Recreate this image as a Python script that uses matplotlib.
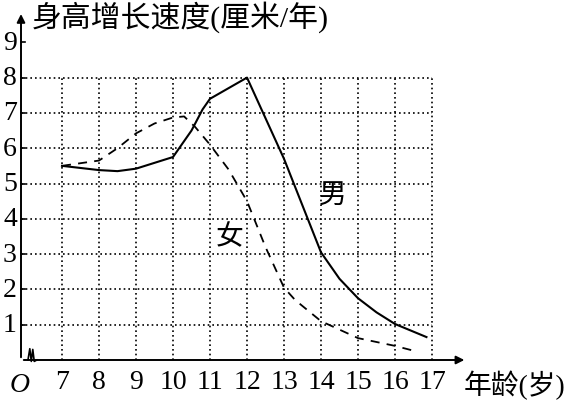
import matplotlib
matplotlib.use("Agg")
import matplotlib.pyplot as plt

plt.rcParams['font.family'] = ['Liberation Serif', 'Noto Sans CJK SC', 'DejaVu Sans']

# values
boy_age = [7, 8, 8.5, 9, 10, 10.5, 10.8, 11, 12, 13, 14, 14.5, 15, 15.5, 16, 16.85]
boy_speed = [5.5, 5.38, 5.35, 5.42, 5.75, 6.5, 7.1, 7.4, 8.0, 5.7, 3.05, 2.3, 1.75, 1.35, 1.02, 0.65]
girl_age = [7, 8, 8.5, 9, 9.5, 10, 10.3, 10.6, 11, 11.5, 12, 12.5, 13, 13.3, 14, 15, 16, 16.55]
girl_speed = [5.5, 5.65, 6.0, 6.42, 6.7, 6.87, 6.9, 6.6, 6.1, 5.4, 4.5, 3.2, 2.05, 1.7, 1.1, 0.62, 0.4, 0.25]
x_ticks = list(range(7, 18))
y_ticks = list(range(1, 10))

fig = plt.figure(figsize=(5.64, 4.06), dpi=100)
ax = fig.add_axes([0, 0, 1, 1])
# pixel -> data: x = 7 + (px-62)/37, y = (361-py)/35.3
ax.set_xlim(7 - 62 / 37, 7 + 502 / 37)
ax.set_ylim((361 - 406) / 35.3, 361 / 35.3)
ax.axis('off')

x0 = 7 - 41 / 37  # y-axis position

# grid
for y in range(1, 9):
    ax.plot([x0, 17], [y, y], color='black', lw=1.2, ls=(0, (1, 1.8)))
for x in x_ticks:
    ax.plot([x, x], [0, 8], color='black', lw=1.2, ls=(0, (1, 1.8)))

# axes with arrows
ax.annotate('', xy=(x0, 9.88), xytext=(x0, 0),
            arrowprops=dict(arrowstyle='-|>', color='black', lw=1.4, mutation_scale=12))
ax.annotate('', xy=(17.95, 0), xytext=(x0, 0),
            arrowprops=dict(arrowstyle='-|>', color='black', lw=1.4, mutation_scale=12))
# break mark
ax.plot([6.08, 6.13, 6.17, 6.21, 6.25, 6.32],
        [0, 0.32, -0.04, 0.3, -0.04, 0], color='black', lw=1.2)

# y ticks and labels
for y in y_ticks:
    ax.plot([x0, x0 + 0.12], [y, y], color='black', lw=1.2)
    ax.text(x0 - 0.3, y, str(y), ha='center', va='center', fontsize=20)
for x in x_ticks:
    ax.text(x, -0.62, str(x), ha='center', va='center', fontsize=20)
ax.text(x0 - 0.03, -0.7, 'O', ha='center', va='center', fontsize=20, style='italic')

# curves
ax.plot(boy_age, boy_speed, color='black', lw=1.5)
ax.plot(girl_age, girl_speed, color='black', lw=1.3, ls=(0, (5, 4)))

ax.text(x0 + 0.3, 9.75, '身高增长速度(厘米/年)', ha='left', va='center', fontsize=21.5)
ax.text(17.85, -0.7, '年龄(岁)', ha='left', va='center', fontsize=20)
ax.text(14.32, 4.65, '男', ha='center', va='center', fontsize=20)
ax.text(11.54, 3.48, '女', ha='center', va='center', fontsize=20)

fig.savefig('out.png', dpi=100)
